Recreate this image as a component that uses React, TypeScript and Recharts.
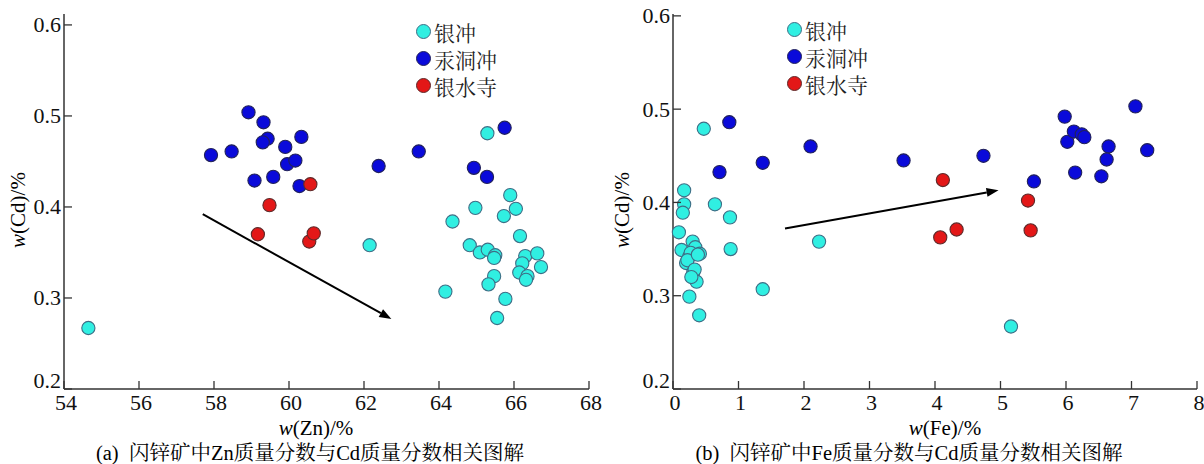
import { ScatterChart, Scatter, XAxis, YAxis, ReferenceLine } from 'recharts';

// panel (a): Zn vs Cd
const ycZn = [54.65, 62.15, 64.36, 65.29, 64.97, 65.9, 66.05, 65.73, 66.16, 64.82, 65.09, 65.3, 65.5, 65.47, 66.3, 66.62, 66.22, 66.72, 66.14, 66.36, 66.32, 65.47, 65.32, 64.17, 65.77, 65.55];
const ycCdA = [0.267, 0.358, 0.384, 0.481, 0.399, 0.413, 0.398, 0.39, 0.368, 0.358, 0.35, 0.353, 0.347, 0.344, 0.346, 0.349, 0.338, 0.334, 0.328, 0.324, 0.32, 0.324, 0.315, 0.307, 0.299, 0.278];
const gdcZn = [57.92, 58.47, 58.92, 59.32, 59.43, 59.3, 59.9, 60.33, 59.95, 60.17, 59.08, 59.58, 60.28, 62.39, 63.46, 64.93, 65.28, 65.75];
const gdcCdA = [0.457, 0.461, 0.504, 0.493, 0.475, 0.471, 0.466, 0.477, 0.447, 0.451, 0.429, 0.433, 0.423, 0.445, 0.461, 0.443, 0.433, 0.487];
const yssZn = [60.57, 59.48, 59.17, 60.54, 60.66];
const yssCdA = [0.425, 0.402, 0.37, 0.362, 0.371];
const arrowA = [{ x: 57.7, y: 0.392 }, { x: 62.73, y: 0.277 }];

// panel (b): Fe vs Cd
const ycFe = [0.47, 0.17, 0.17, 0.15, 0.64, 0.87, 0.09, 0.13, 0.3, 0.34, 0.41, 0.25, 0.2, 0.31, 0.36, 0.25, 0.4, 0.88, 1.37, 2.23, 5.16, 0.27, 0.22, 0.33, 0.28, 0.38];
const ycCdB = [0.479, 0.413, 0.398, 0.389, 0.398, 0.384, 0.368, 0.349, 0.358, 0.352, 0.345, 0.342, 0.335, 0.325, 0.315, 0.299, 0.279, 0.35, 0.307, 0.358, 0.267, 0.346, 0.338, 0.328, 0.32, 0.344];
const gdcFe = [0.86, 0.71, 1.37, 2.1, 3.52, 4.74, 5.51, 5.98, 6.02, 6.12, 6.24, 6.28, 6.14, 6.65, 6.62, 6.54, 7.06, 7.24];
const gdcCdB = [0.486, 0.4325, 0.4425, 0.46, 0.445, 0.45, 0.4225, 0.492, 0.465, 0.476, 0.473, 0.47, 0.432, 0.46, 0.446, 0.428, 0.503, 0.456];
const yssFe = [4.12, 4.08, 4.33, 5.42, 5.46];
const yssCdB = [0.424, 0.3625, 0.371, 0.402, 0.37];
const arrowB = [{ x: 1.71, y: 0.372 }, { x: 4.97, y: 0.413 }];

const znTicks = [54, 56, 58, 60, 62, 64, 66, 68];
const feTicks = [0, 1, 2, 3, 4, 5, 6, 7, 8];
const cdTicks = [0.2, 0.3, 0.4, 0.5, 0.6];
const seriesNames = ['银冲', '汞洞冲', '银水寺'];

const FONT = '"Liberation Serif", "Times New Roman", "Noto Serif CJK SC", "Noto Sans CJK SC", serif';
const AXIS = '#333';
const COLORS = [
  { fill: '#30EFE2', stroke: '#3E6E86' },
  { fill: '#0A0ADA', stroke: '#22225A' },
  { fill: '#E31717', stroke: '#5E2A2A' },
];
const tickText = { fontSize: 22, fontFamily: FONT, fill: '#111' };

const toPoints = (xs: number[], ys: number[]) => xs.map((x, i) => ({ x, y: ys[i] }));

const dot = (c: { fill: string; stroke: string }) => (props: any) => (
  <circle cx={props.cx} cy={props.cy} r={6.6} fill={c.fill} stroke={c.stroke} strokeWidth={1.1} />
);

const YTick = (props: any) => {
  const { x, y, payload } = props;
  // bottom label sits a little above the corner, as in the source figure
  const shift = payload.value === 0.2 ? -9 : 0;
  return (
    <g>
      <line x1={x} y1={y} x2={x + 8} y2={y} stroke={AXIS} strokeWidth={1.3} />
      <text x={x - 3} y={y + shift} dy={7.5} textAnchor="end" style={tickText}>
        {payload.value.toFixed(1)}
      </text>
    </g>
  );
};

const XTick = (props: any) => {
  const { x, y, payload } = props;
  return (
    <g>
      <line x1={x} y1={y} x2={x} y2={y - 8} stroke={AXIS} strokeWidth={1.3} />
      <text x={x + 2} y={y} dy={21} textAnchor="middle" style={tickText}>
        {payload.value}
      </text>
    </g>
  );
};

const Arrow = (props: any) => {
  const { x1, y1, x2, y2 } = props;
  const a = Math.atan2(y2 - y1, x2 - x1);
  const len = 12;
  const w = 4.5;
  const bx = x2 - len * Math.cos(a);
  const by = y2 - len * Math.sin(a);
  const px = -Math.sin(a) * w;
  const py = Math.cos(a) * w;
  return (
    <g>
      <line x1={x1} y1={y1} x2={bx} y2={by} stroke="#000" strokeWidth={2} />
      <polygon points={`${x2},${y2} ${bx + px},${by + py} ${bx - px},${by - py}`} fill="#000" />
    </g>
  );
};

const Legend = ({ left, top }: { left: number; top: number }) => (
  <div style={{ position: 'absolute', left, top }}>
    {seriesNames.map((n, i) => (
      <div key={n} style={{ display: 'flex', alignItems: 'center', height: 27 }}>
        <span
          style={{
            width: 13,
            height: 13,
            borderRadius: '50%',
            background: COLORS[i].fill,
            border: `1px solid ${COLORS[i].stroke}`,
            marginRight: 3,
          }}
        />
        <span style={{ fontSize: 21, fontFamily: FONT, color: '#222' }}>{n}</span>
      </div>
    ))}
  </div>
);

const Panel = ({
  left, width, margin, xDomain, xTicks, yDomain, series, arrow,
}: any) => (
  <div style={{ position: 'absolute', left, top: 0 }}>
    <ScatterChart width={width} height={464} margin={margin}>
      <XAxis
        type="number"
        dataKey="x"
        domain={xDomain}
        ticks={xTicks}
        height={30}
        tickLine={false}
        tickSize={0}
        tickMargin={0}
        tick={<XTick />}
        axisLine={{ stroke: AXIS, strokeWidth: 1.5 }}
      />
      <YAxis
        type="number"
        dataKey="y"
        domain={yDomain}
        ticks={cdTicks}
        width={60}
        tickLine={false}
        tickSize={0}
        tickMargin={0}
        tick={<YTick />}
        axisLine={{ stroke: AXIS, strokeWidth: 1.5 }}
      />
      {series.map((pts: any, i: number) => (
        <Scatter key={i} data={pts} shape={dot(COLORS[i])} isAnimationActive={false} />
      ))}
      <ReferenceLine segment={arrow} shape={<Arrow />} ifOverflow="visible" />
    </ScatterChart>
  </div>
);

const AxisText = ({ sym }: { sym: string }) => (
  <span>
    <i>w</i>({sym})/%
  </span>
);

const labelStyle = { position: 'absolute' as const, fontSize: 21, lineHeight: 1, whiteSpace: 'nowrap' as const };

export default function App() {
  return (
    <div style={{ position: 'absolute', left: 0, top: 0, width: 1204, height: 464, background: '#fff', fontFamily: FONT }}>
      <Panel
        left={0}
        width={612}
        margin={{ top: 14, right: 23, bottom: 45, left: 4 }}
        xDomain={[54, 68]}
        xTicks={znTicks}
        yDomain={[0.2, 0.612]}
        series={[toPoints(ycZn, ycCdA), toPoints(gdcZn, gdcCdA), toPoints(yssZn, yssCdA)]}
        arrow={arrowA}
      />
      <Panel
        left={600}
        width={604}
        margin={{ top: 14, right: 7, bottom: 45, left: 13 }}
        xDomain={[0, 8]}
        xTicks={feTicks}
        yDomain={[0.2, 0.602]}
        series={[toPoints(ycFe, ycCdB), toPoints(gdcFe, gdcCdB), toPoints(yssFe, yssCdB)]}
        arrow={arrowB}
      />
      <Legend left={416} top={18} />
      <Legend left={787} top={16} />

      <div style={{ ...labelStyle, left: 18, top: 210, transform: 'translate(-50%, -50%) rotate(-90deg)' }}>
        <AxisText sym="Cd" />
      </div>
      <div style={{ ...labelStyle, left: 622, top: 210, transform: 'translate(-50%, -50%) rotate(-90deg)' }}>
        <AxisText sym="Cd" />
      </div>
      <div style={{ ...labelStyle, left: 316, top: 428, transform: 'translate(-50%, -50%)' }}>
        <AxisText sym="Zn" />
      </div>
      <div style={{ ...labelStyle, left: 945, top: 428, transform: 'translate(-50%, -50%)' }}>
        <AxisText sym="Fe" />
      </div>
      <div style={{ ...labelStyle, left: 310, top: 453, fontSize: 20.5, transform: 'translate(-50%, -50%)' }}>
        (a)&nbsp;&nbsp;闪锌矿中Zn质量分数与Cd质量分数相关图解
      </div>
      <div style={{ ...labelStyle, left: 909, top: 453, fontSize: 20.5, transform: 'translate(-50%, -50%)' }}>
        (b)&nbsp;&nbsp;闪锌矿中Fe质量分数与Cd质量分数相关图解
      </div>
    </div>
  );
}
